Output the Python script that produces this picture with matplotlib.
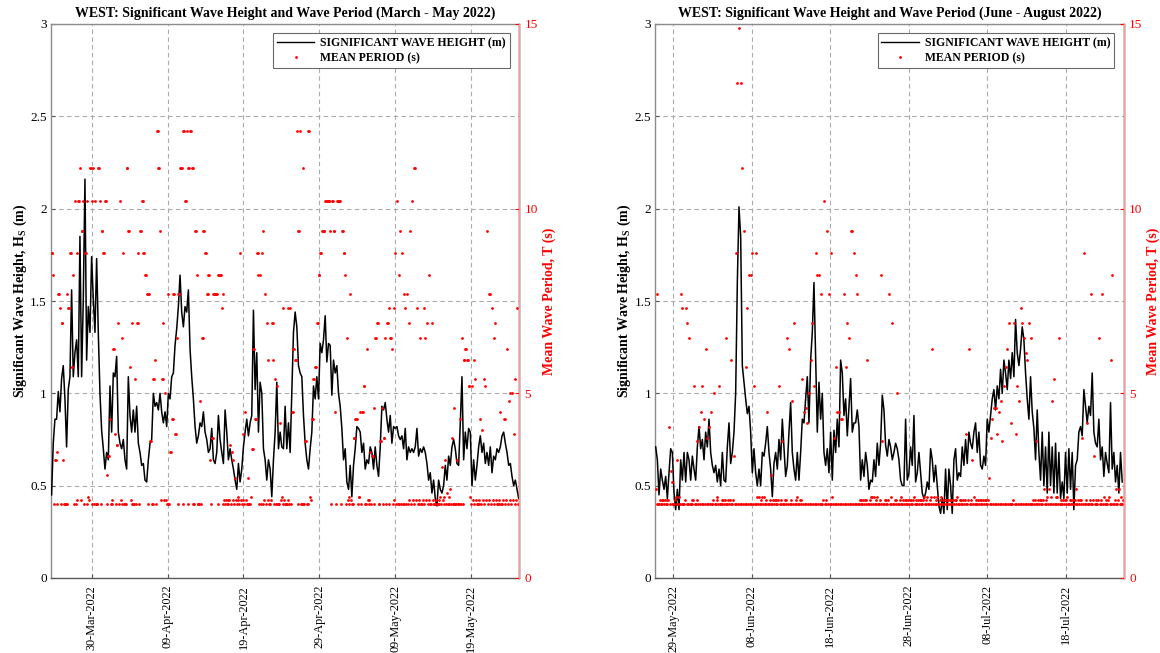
import numpy as np
import pandas as pd
import matplotlib
matplotlib.use("Agg")
import matplotlib.pyplot as plt
import matplotlib.dates as mdates
from matplotlib.lines import Line2D
from matplotlib.ticker import FormatStrFormatter

plt.rcParams['font.family'] = ['Liberation Serif', 'DejaVu Serif']
plt.rcParams['mathtext.fontset'] = 'custom'
plt.rcParams['mathtext.rm'] = 'Liberation Serif'
plt.rcParams['mathtext.bf'] = 'Liberation Serif:bold'

# ---------------- March - May 2022 record ----------------
spring_start = "2022-03-24 17:00"
spring_end = "2022-05-25 07:00"
spring_xlim = ("2022-03-24 14:30", "2022-05-25 08:00")
spring_ticks = ["2022-03-30", "2022-04-09", "2022-04-19",
                "2022-04-29", "2022-05-09", "2022-05-19"]

# significant wave height (m)
spring_hs = [
    0.45, 0.73, 0.86, 0.86, 1.01, 0.90, 1.08, 1.15, 0.97, 0.71,
    1.02, 1.09, 1.56, 1.09, 1.22, 1.29, 1.09, 1.85, 1.09, 1.51,
    2.16, 1.18, 1.47, 1.33, 1.74, 1.51, 1.33, 1.73, 1.33, 1.00,
    0.80, 0.70, 0.59, 0.68, 0.64, 1.04, 0.79, 1.11, 1.09, 1.20,
    0.79, 0.73, 0.70, 0.75, 0.64, 0.59, 1.09, 0.88, 0.79, 0.91,
    0.79, 0.93, 0.73, 0.68, 0.61, 0.62, 0.53, 0.52, 0.64, 0.73,
    0.75, 1.00, 0.93, 0.95, 0.91, 1.00, 0.90, 0.84, 0.90, 0.82,
    1.00, 0.97, 1.09, 1.11, 1.26, 1.35, 1.47, 1.64, 1.44, 1.36,
    1.47, 1.44, 1.56, 1.24, 1.09, 0.97, 0.82, 0.73, 0.77, 0.84,
    0.82, 0.90, 0.79, 0.75, 0.68, 0.70, 0.81, 0.64, 0.62, 0.68,
    0.88, 0.75, 0.68, 0.62, 0.91, 0.79, 0.64, 0.70, 0.64, 0.59,
    0.53, 0.48, 0.62, 0.52, 0.59, 0.71, 0.79, 0.86, 0.77, 0.84,
    0.88, 1.45, 1.02, 1.22, 0.79, 1.06, 1.00, 0.70, 0.64, 0.53,
    0.64, 0.59, 0.44, 0.64, 0.79, 1.06, 0.70, 0.79, 0.71, 0.70,
    0.93, 0.70, 0.84, 0.68, 1.00, 1.33, 1.44, 1.36, 1.15, 1.11,
    1.09, 0.88, 0.73, 0.64, 0.59, 0.70, 0.79, 1.04, 0.97, 1.09,
    0.97, 1.27, 1.22, 1.29, 1.42, 1.17, 1.27, 1.26, 0.99, 1.18,
    1.11, 1.15, 1.00, 0.93, 0.81, 0.64, 0.70, 0.52, 0.48, 0.61,
    0.44, 0.61, 0.70, 0.82, 0.81, 0.79, 0.68, 0.73, 0.59, 0.64,
    0.62, 0.71, 0.68, 0.59, 0.71, 0.61, 0.55, 0.71, 0.93, 0.91,
    0.95, 0.86, 0.79, 0.88, 0.73, 0.82, 0.81, 0.82, 0.77, 0.75,
    0.77, 0.70, 0.81, 0.64, 0.71, 0.68, 0.70, 0.68, 0.71, 0.81,
    0.66, 0.70, 0.68, 0.71, 0.68, 0.62, 0.53, 0.57, 0.46, 0.53,
    0.43, 0.39, 0.53, 0.48, 0.46, 0.50, 0.61, 0.53, 0.66, 0.61,
    0.71, 0.75, 0.70, 0.62, 0.61, 0.84, 1.09, 0.64, 0.79, 0.70,
    0.81, 0.79, 0.50, 0.64, 0.53, 0.61, 0.71, 0.77, 0.68, 0.73,
    0.62, 0.68, 0.61, 0.71, 0.57, 0.66, 0.64, 0.70, 0.68, 0.71,
    0.77, 0.79, 0.73, 0.68, 0.61, 0.62, 0.55, 0.50, 0.53, 0.48,
    0.43,
]

# mean period (s): main reading at each time step
spring_tp = [
    8.8, 8.2, 3.2, 3.4, 7.7, 7.3, 6.9, 3.2, 2.0, 7.7,
    7.3, 8.8, 5.7, 8.2, 10.2, 8.8, 10.2, 11.1, 9.4, 10.2,
    8.8, 10.2, 2.2, 11.1, 10.2, 11.1, 10.2, 2.0, 11.1, 10.2,
    9.4, 8.8, 10.2, 2.8, 3.3, 4.3, 2.0, 6.2, 3.9, 3.6,
    6.9, 10.2, 6.5, 8.8, 2.0, 11.1, 9.4, 5.7, 6.9, 2.0,
    5.4, 6.9, 8.8, 9.4, 10.2, 8.8, 8.2, 7.7, 7.7, 3.7,
    2.0, 5.4, 5.9, 12.1, 11.1, 9.4, 5.4, 6.9, 5.0, 2.0,
    7.7, 3.4, 4.3, 7.7, 3.9, 6.5, 7.7, 11.1, 11.1, 12.1,
    10.2, 12.1, 11.1, 12.1, 11.1, 11.1, 9.4, 8.2, 2.0, 4.8,
    6.5, 9.4, 8.8, 7.7, 8.2, 3.2, 3.8, 7.7, 7.7, 7.7,
    8.2, 8.2, 7.3, 7.7, 2.0, 2.0, 2.0, 3.6, 3.4, 3.2,
    2.7, 2.0, 2.2, 8.8, 2.0, 3.9, 4.5, 2.0, 2.7, 2.0,
    3.5, 6.2, 4.3, 8.8, 8.2, 8.2, 8.8, 9.4, 7.7, 6.9,
    5.9, 2.0, 6.9, 5.9, 5.4, 5.2, 2.0, 4.2, 2.2, 7.3,
    2.0, 2.0, 7.3, 7.3, 4.5, 6.2, 5.9, 12.1, 9.4, 12.1,
    2.0, 11.1, 3.7, 2.0, 12.1, 2.2, 4.3, 5.4, 5.7, 6.9,
    8.2, 8.8, 9.4, 9.4, 10.2, 10.2, 10.2, 9.4, 10.2, 9.4,
    4.5, 10.2, 10.2, 10.2, 9.4, 8.8, 8.2, 6.5, 2.2, 7.7,
    2.0, 3.8, 4.3, 4.3, 2.2, 4.5, 4.5, 5.2, 2.0, 6.2,
    2.0, 3.4, 3.3, 4.6, 6.5, 6.9, 2.0, 3.7, 4.6, 3.8,
    6.5, 6.9, 7.3, 6.5, 6.2, 7.3, 8.8, 10.2, 8.2, 9.4,
    8.8, 7.7, 7.3, 7.7, 6.9, 9.4, 10.2, 11.1, 11.1, 7.3,
    2.0, 6.5, 2.0, 7.3, 6.5, 6.9, 8.2, 2.0, 6.9, 2.0,
    2.0, 2.0, 2.0, 2.2, 3.0, 2.2, 3.2, 2.3, 2.2, 2.4,
    3.8, 4.6, 2.0, 3.2, 2.0, 4.3, 6.5, 5.9, 6.2, 5.9,
    5.2, 2.2, 5.2, 5.9, 5.4, 2.0, 2.0, 4.3, 4.0, 5.4,
    5.2, 9.4, 7.7, 7.7, 7.3, 6.5, 6.9, 2.0, 2.0, 4.5,
    2.0, 4.3, 4.3, 6.2, 4.8, 5.0, 5.0, 3.9, 5.4, 7.3,
    2.0,
]

# mean period (s): short-period readings in between (0 = none)
spring_tp_low = [
    0, 2.0, 0, 2.0, 0, 2.0, 0, 2.0, 2.0, 2.0,
    0, 0, 0, 2.0, 2.0, 2.1, 0, 2.1, 0, 2.0,
    0, 2.0, 2.1, 0, 2.0, 2.0, 2.0, 0, 0, 2.0,
    0, 0, 0, 2.0, 0, 2.0, 2.1, 0, 2.0, 0,
    2.0, 2.1, 2.0, 2.0, 0, 0, 0, 2.1, 2.0, 0,
    2.0, 0, 2.0, 0, 0, 0, 0, 2.0, 0, 0,
    2.0, 0, 2.0, 0, 0, 2.1, 0, 2.1, 2.1, 2.0,
    2.0, 0, 0, 0, 0, 2.0, 0, 0, 2.0, 0,
    0, 2.0, 0, 0, 2.0, 2.0, 0, 2.0, 0, 2.0,
    0, 0, 0, 0, 0, 2.0, 0, 0, 0, 2.0,
    0, 0, 2.0, 2.1, 2.1, 2.1, 2.1, 2.0, 2.1, 2.0,
    2.1, 2.1, 2.0, 2.1, 2.1, 2.0, 2.1, 2.0, 2.0, 2.2,
    0, 0, 0, 0, 2.0, 2.0, 2.0, 2.1, 2.0, 2.1,
    2.0, 2.1, 0, 2.0, 2.0, 2.0, 2.0, 2.1, 2.0, 2.1,
    2.0, 2.1, 2.0, 2.0, 0, 0, 0, 2.0, 0, 2.0,
    0, 2.0, 0, 2.0, 0, 2.1, 0, 0, 0, 0,
    0, 0, 0, 0, 0, 0, 0, 2.0, 0, 0,
    2.0, 0, 0, 2.0, 0, 0, 2.0, 2.1, 2.0, 2.1,
    2.0, 0, 0, 2.0, 0, 2.0, 0, 0, 2.0, 2.1,
    2.1, 2.0, 0, 2.0, 0, 0, 2.0, 0, 2.0, 0,
    2.0, 0, 2.0, 0, 2.0, 2.1, 2.0, 2.0, 2.0, 2.0,
    2.0, 2.0, 2.0, 2.0, 2.1, 2.0, 2.1, 2.0, 2.1, 2.0,
    2.1, 2.0, 2.1, 2.0, 2.1, 2.0, 2.1, 2.0, 2.1, 2.0,
    2.1, 2.0, 2.1, 2.0, 2.1, 2.0, 2.0, 2.0, 2.0, 2.0,
    2.0, 2.0, 2.0, 2.0, 2.0, 2.0, 2.0, 0, 0, 0,
    0, 2.0, 2.1, 2.0, 2.1, 2.0, 2.1, 2.0, 2.1, 2.0,
    2.1, 2.0, 2.1, 2.0, 2.1, 2.0, 2.1, 2.0, 2.1, 2.0,
    2.1, 2.0, 2.1, 2.0, 2.1, 2.0, 2.1, 2.0, 2.1, 2.0,
    2.1,
]

# ---------------- June - August 2022 record ----------------
summer_start = "2022-05-26 18:00"
summer_end = "2022-07-25 04:00"
summer_xlim = ("2022-05-26 16:30", "2022-07-25 08:00")
summer_ticks = ["2022-05-29", "2022-06-08", "2022-06-18",
                "2022-06-28", "2022-07-08", "2022-07-18"]

summer_hs = [
    0.71, 0.64, 0.45, 0.59, 0.53, 0.48, 0.55, 0.43, 0.57, 0.70,
    0.68, 0.46, 0.37, 0.48, 0.37, 0.64, 0.53, 0.68, 0.52, 0.68,
    0.64, 0.53, 0.66, 0.59, 0.53, 0.71, 0.82, 0.70, 0.75, 0.64,
    0.79, 0.71, 0.86, 0.68, 0.61, 0.57, 0.61, 0.52, 0.59, 0.50,
    0.68, 0.53, 0.52, 0.71, 0.84, 0.62, 0.68, 0.79, 1.00, 1.60,
    2.01, 1.85, 1.15, 1.06, 0.97, 0.89, 0.93, 0.79, 0.57, 0.70,
    0.57, 0.50, 0.59, 0.50, 0.68, 0.66, 0.73, 0.82, 0.68, 0.59,
    0.44, 0.62, 0.68, 0.59, 0.75, 0.64, 0.86, 0.70, 0.55, 0.61,
    0.79, 0.95, 0.68, 0.59, 0.53, 0.68, 0.53, 0.68, 0.86, 0.84,
    0.97, 1.09, 0.84, 1.18, 1.33, 1.60, 1.20, 0.79, 1.06, 0.86,
    1.00, 0.68, 0.61, 0.70, 0.57, 0.79, 0.53, 0.80, 0.68, 0.86,
    0.71, 1.18, 1.11, 0.88, 0.97, 0.77, 0.93, 1.08, 0.79, 0.84,
    0.84, 0.91, 0.82, 0.53, 0.64, 0.55, 0.68, 0.61, 0.48, 0.53,
    0.52, 0.64, 0.55, 0.73, 0.61, 0.73, 0.99, 0.91, 0.72, 0.66,
    0.75, 0.71, 0.64, 0.68, 0.73, 0.70, 0.64,
    0.53, 0.50, 0.50, 0.86, 0.53, 0.57, 0.71, 0.61, 0.88, 0.52,
    0.57, 0.68, 0.57, 0.46, 0.43, 0.46, 0.52, 0.48, 0.70, 0.64,
    0.52, 0.61, 0.50, 0.39, 0.35, 0.43, 0.35, 0.59, 0.37, 0.59,
    0.50, 0.35, 0.64, 0.70, 0.53, 0.57, 0.55, 0.71, 0.61, 0.75,
    0.62, 0.79, 0.73, 0.70, 0.79, 0.84, 0.68, 0.79, 0.61, 0.59,
    0.66, 0.61, 0.86, 0.79, 0.88, 0.97, 1.02, 0.91, 1.04, 0.97,
    1.13, 1.00, 1.18, 1.11, 1.02, 1.18, 1.08, 1.22, 1.09, 1.40,
    1.22, 1.15, 1.24, 1.36, 1.29, 1.11, 0.97, 0.86, 1.09, 0.90,
    0.81, 0.64, 0.91, 0.68, 0.53, 0.79, 0.50, 0.71, 0.46, 0.79,
    0.50, 0.71, 0.46, 0.73, 0.46, 0.68, 0.43, 0.52, 0.43, 0.68,
    0.46, 0.70, 0.48, 0.68, 0.37, 0.61, 0.64, 0.79, 0.82, 0.77,
    1.02, 0.93, 0.84, 0.93, 0.88, 1.11, 0.79, 0.73, 0.71, 0.86,
    0.64, 0.71, 0.55, 0.68, 0.62, 0.57, 0.95, 0.59, 0.68, 0.52,
    0.61, 0.46, 0.68, 0.52,
]

summer_tp = [
    2.4, 7.7, 2.0, 2.0, 2.0, 2.0, 2.0, 2.0, 4.1, 2.9,
    2.6, 2.0, 2.2, 3.2, 2.2, 7.7, 7.3, 2.0, 7.3, 6.9,
    6.5, 2.0, 2.0, 5.2, 2.0, 3.7, 4.1, 4.5, 5.2, 4.3,
    6.2, 3.8, 4.1, 4.5, 2.0, 5.0, 2.0, 2.2, 5.2, 2.0,
    2.0, 2.0, 6.5, 2.0, 2.0, 5.9, 2.0, 3.3, 8.8, 13.4,
    14.9, 13.4, 11.1, 9.4, 5.7, 7.3, 8.2, 8.2, 8.8, 5.2,
    8.8, 2.2, 2.2, 2.0, 2.2, 2.2, 2.0, 4.5, 2.0, 2.8,
    2.0, 2.0, 2.0, 2.0, 5.2, 2.0, 3.7, 2.0, 2.0, 6.5,
    6.2, 2.0, 4.8, 6.9, 2.0, 2.2, 2.0, 2.0, 5.4, 4.5,
    4.6, 4.2, 5.0, 5.9, 6.9, 5.2, 8.8, 8.2, 8.2, 7.7,
    2.0, 10.2, 2.0, 9.4, 7.7, 8.8, 2.2, 3.8, 5.7, 4.5,
    4.5, 4.3, 4.3, 7.7, 5.7, 6.9, 6.5, 9.4, 9.4, 8.8,
    8.2, 7.7, 2.0, 2.0, 2.0, 2.0, 2.0, 5.9, 2.0, 2.2,
    2.2, 2.2, 2.0, 2.2, 2.0, 8.2, 3.7, 2.0, 2.0, 2.0,
    7.7, 2.2, 6.9, 2.0, 2.0, 5.0, 2.0,
    2.2, 2.0, 2.0, 2.0, 2.0, 2.0, 2.0, 2.0, 2.2, 2.0,
    2.0, 2.0, 2.0, 2.0, 2.2, 2.0, 2.2, 2.0, 2.2, 6.2,
    2.2, 2.0, 2.2, 2.0, 2.2, 2.0, 2.0, 2.0, 2.0, 2.0,
    2.0, 2.0, 2.0, 2.0, 2.2, 2.0, 2.0, 2.0, 2.0, 3.9,
    2.0, 6.2, 2.0, 3.2, 2.2, 2.0, 2.0, 2.0, 2.0, 2.0,
    2.0, 2.0, 2.0, 2.7, 3.8, 4.3, 4.6, 4.6, 3.9, 4.5,
    4.8, 3.7, 5.2, 5.7, 6.2, 6.9, 4.2, 2.0, 6.9, 3.9,
    5.2, 4.8, 7.3, 6.9, 6.5, 6.1, 5.9, 6.9, 6.5, 2.0,
    2.0, 3.7, 2.0, 2.0, 2.0, 2.0, 2.4, 2.0, 2.2, 2.4,
    2.2, 4.8, 5.4, 2.2, 2.2, 6.5, 2.0, 2.0, 2.0, 2.0,
    2.2, 2.0, 2.0, 2.0, 2.0, 2.4, 2.0, 2.0, 2.0, 3.8,
    8.8, 2.0, 4.2, 2.0, 7.7, 2.0, 3.3, 2.0, 2.0, 6.5,
    2.0, 7.7, 2.2, 2.0, 2.0, 2.2, 5.9, 8.2, 2.0, 2.4,
    2.0, 2.4, 2.2, 2.0,
]

summer_tp_low = [
    2.0, 2.0, 2.1, 2.1, 2.1, 2.1, 2.1, 2.1, 2.0, 2.0,
    2.0, 2.1, 2.0, 2.0, 2.0, 2.0, 2.0, 2.1, 2.0, 2.0,
    2.0, 2.1, 2.1, 2.0, 2.1, 2.0, 2.0, 2.0, 2.0, 2.0,
    2.0, 2.0, 2.0, 2.0, 2.1, 2.0, 2.1, 2.0, 2.0, 2.1,
    2.1, 2.1, 2.0, 2.1, 2.1, 2.0, 2.1, 2.0, 2.0, 2.0,
    2.0, 2.0, 2.0, 2.0, 2.0, 2.0, 2.0, 2.0, 2.0, 2.0,
    2.0, 2.0, 2.0, 2.1, 2.0, 2.0, 2.1, 2.0, 2.1, 2.0,
    2.1, 2.1, 2.1, 2.1, 2.0, 2.1, 2.0, 2.1, 2.1, 2.0,
    2.0, 2.1, 2.0, 2.0, 2.1, 2.0, 2.1, 2.1, 2.0, 2.0,
    2.0, 2.0, 2.0, 2.0, 2.0, 2.0, 2.0, 2.0, 2.0, 2.0,
    2.1, 2.0, 2.1, 2.0, 2.0, 2.0, 2.0, 2.0, 2.0, 2.0,
    2.0, 2.0, 2.0, 2.0, 2.0, 2.0, 2.0, 2.0, 2.0, 2.0,
    2.0, 2.0, 2.1, 2.1, 2.1, 2.1, 2.1, 2.0, 2.1, 2.0,
    2.0, 2.0, 2.1, 2.0, 2.1, 2.0, 2.0, 2.1, 2.1, 2.1,
    2.0, 2.0, 2.0, 2.1, 2.1, 2.0, 2.1,
    2.0, 2.1, 2.1, 2.1, 2.1, 2.1, 2.1, 2.1, 2.0, 2.1,
    2.1, 2.1, 2.1, 2.1, 2.0, 2.1, 2.0, 2.1, 2.0, 2.0,
    2.0, 2.1, 2.0, 2.1, 2.0, 2.1, 2.1, 2.1, 2.1, 2.1,
    2.1, 2.1, 2.1, 2.1, 2.0, 2.1, 2.1, 2.1, 2.1, 2.0,
    2.1, 2.0, 2.1, 2.0, 2.0, 2.1, 2.1, 2.1, 2.1, 2.1,
    2.1, 2.1, 2.1, 2.0, 2.0, 2.0, 2.0, 2.0, 2.0, 2.0,
    2.0, 2.0, 2.0, 2.0, 2.0, 2.0, 2.0, 2.1, 2.0, 2.0,
    2.0, 2.0, 2.0, 2.0, 2.0, 2.0, 2.0, 2.0, 2.0, 2.1,
    2.1, 2.0, 2.1, 2.1, 2.1, 2.1, 2.0, 2.1, 2.0, 2.0,
    2.0, 2.0, 2.0, 2.0, 2.0, 2.0, 2.1, 2.1, 2.1, 2.1,
    2.0, 2.1, 2.1, 2.1, 2.1, 2.0, 2.1, 2.1, 2.1, 2.0,
    2.0, 2.1, 2.0, 2.1, 2.0, 2.1, 2.0, 2.1, 2.1, 2.0,
    2.1, 2.0, 2.0, 2.1, 2.1, 2.0, 2.0, 2.0, 2.1, 2.0,
    2.1, 2.0, 2.0, 2.1,
]

hs_ticks = [0, 0.5, 1, 1.5, 2, 2.5, 3]
tp_ticks = [0, 5, 10, 15]

W, H = 1160, 653
fig = plt.figure(figsize=(W / 100, H / 100), dpi=100)

GRID = dict(color="#ababab", linestyle=(0, (4, 3)), linewidth=0.8)
RED = "#ff0000"


def draw_panel(left_px, right_px, start, end, hs, tp, tp_low, xlim, ticks,
               title):
    rect = [left_px / W, (H - 578) / H, (right_px - left_px) / W, 554 / H]
    ax = fig.add_axes(rect)
    n = len(hs)
    t = pd.date_range(start, end, periods=n)
    ax.plot(t, hs, color="black", lw=1.1, zorder=3)
    ax.set_xlim(pd.Timestamp(xlim[0]), pd.Timestamp(xlim[1]))
    ax.set_ylim(0, 3)
    ax.set_yticks(hs_ticks)
    ax.yaxis.set_major_formatter(FormatStrFormatter("%g"))
    ax.set_xticks([pd.Timestamp(d) for d in ticks])
    ax.xaxis.set_major_formatter(mdates.DateFormatter("%d-%b-%Y"))
    ax.tick_params(axis="x", rotation=90, labelsize=8.8, direction="in",
                   length=3, color="#555555", pad=5)
    ax.tick_params(axis="y", labelsize=9.5, direction="in", length=3,
                   color="#555555", pad=3)
    ax.grid(True, **GRID)
    ax.set_axisbelow(True)
    for s in ("left", "top"):
        ax.spines[s].set_color("#8c8c8c")
    ax.spines["bottom"].set_color("#5a5a5a")
    for s in ax.spines.values():
        s.set_linewidth(1.0)
    ax.set_ylabel("Significant Wave Height, H$_{\\mathbf{S}}$ (m)",
                  fontsize=10, fontweight="bold", labelpad=1)
    ax.set_title(title, fontsize=10, fontweight="bold", pad=5)

    # period readings: main value plus the in-between short-period value
    tp = np.asarray(tp, dtype=float)
    tp_low = np.asarray(tp_low, dtype=float)
    half = (t[1] - t[0]) / 2
    t_tp = np.empty(2 * n, dtype="datetime64[ns]")
    t_tp[0::2] = t.values
    t_tp[1::2] = (t + half).values
    tp_all = np.empty(2 * n)
    tp_all[0::2] = tp
    tp_all[1::2] = np.where(tp_low > 0, tp_low, tp)

    axr = ax.twinx()
    axr.plot(t_tp, tp_all, ls="none", marker="o", ms=2.0, mew=0, color=RED,
             zorder=2)
    axr.set_ylim(0, 15)
    axr.set_yticks(tp_ticks)
    axr.tick_params(axis="y", colors=RED, labelsize=9.5, direction="in",
                    length=3, pad=4)
    axr.spines["right"].set_color("#ff9a9a")
    axr.spines["right"].set_linewidth(1.0)
    for s in ("left", "top", "bottom"):
        axr.spines[s].set_visible(False)
    axr.set_ylabel("Mean Wave Period, T (s)", color=RED, fontsize=10,
                   fontweight="bold", labelpad=3)

    handles = [
        Line2D([], [], color="black", lw=1.0),
        Line2D([], [], ls="none", marker="o", ms=2.0, mew=0, color=RED),
    ]
    leg = axr.legend(handles, ["SIGNIFICANT WAVE HEIGHT (m)", "MEAN PERIOD (s)"],
                     loc="upper right", fancybox=False, framealpha=1,
                     edgecolor="#6a6a6a", borderaxespad=0.8,
                     prop={"weight": "bold", "size": 8.5},
                     handlelength=3.2, handletextpad=0.5, labelspacing=0.3,
                     borderpad=0.3)
    leg.get_frame().set_linewidth(0.8)
    return ax, axr


draw_panel(50.8, 519.0, spring_start, spring_end, spring_hs, spring_tp,
           spring_tp_low, spring_xlim, spring_ticks,
           "WEST: Significant Wave Height and Wave Period (March - May 2022)")
draw_panel(655.2, 1123.5, summer_start, summer_end, summer_hs, summer_tp,
           summer_tp_low, summer_xlim, summer_ticks,
           "WEST: Significant Wave Height and Wave Period (June - August 2022)")

fig.savefig("out.png", dpi=100)
